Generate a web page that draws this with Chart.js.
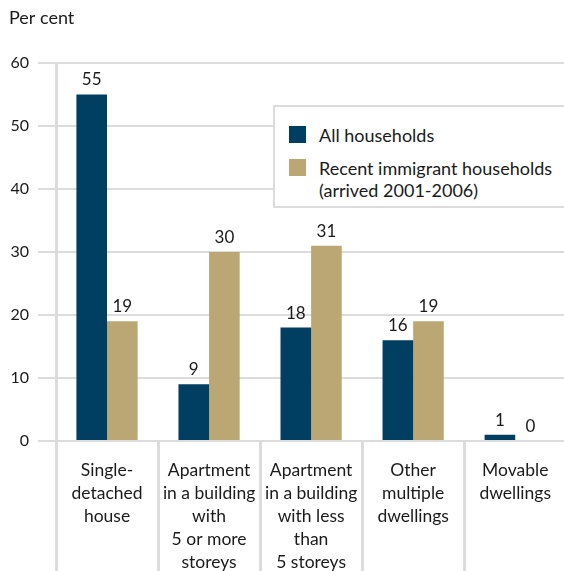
<!DOCTYPE html>
<html>
<head>
<meta charset="utf-8">
<script src="https://cdn.jsdelivr.net/npm/chart.js@4/dist/chart.umd.min.js"></script>
<style>
	html,body{margin:0;padding:0;background:#fff;overflow:hidden;width:564px;height:571px;}
	#wrap{position:relative;width:564px;height:571px;}
	#legend{position:absolute;left:273px;top:105px;width:310px;height:103px;box-sizing:border-box;border:2px solid #dcdcdc;background:#fff;font-family:Lato,sans-serif;font-size:18px;color:#1a1a1a;padding-top:17px;}
	#legend .item{position:relative;padding-left:44px;line-height:22px;margin-bottom:11px;}
	#legend .sw{position:absolute;left:14px;top:2px;width:17px;height:17px;}
</style>
</head>
<body>
<div id="wrap">
	<canvas id="c" width="569" height="571"></canvas>
	<div id="legend"></div>
</div>
<script>
// data
const categories = [
	['Single-','detached','house'],
	['Apartment','in a building','with','5 or more','storeys'],
	['Apartment','in a building','with less','than','5 storeys'],
	['Other','multiple','dwellings'],
	['Movable','dwellings']
];
const allHouseholds = [55, 9, 18, 16, 1];
const recentImmigrants = [19, 30, 31, 19, 0];
const seriesNames = ['All households', ['Recent immigrant households','(arrived 2001-2006)']];
const yTicks = [0, 10, 20, 30, 40, 50, 60];

const BLUE = '#003f62', GOLD = '#baa773', GRID = '#dcdcdc', FONT = 'Lato, sans-serif';

// value labels above bars
const barLabels = {
	id:'barLabels',
	afterDatasetsDraw(chart){
		const ctx = chart.ctx;
		ctx.save();
		ctx.font = '17px ' + FONT; ctx.fillStyle = '#1a1a1a';
		ctx.textAlign = 'center'; ctx.textBaseline = 'bottom';
		chart.data.datasets.forEach((ds, di) => {
			chart.getDatasetMeta(di).data.forEach((bar, i) => {
				ctx.fillText(String(ds.data[i]), bar.x, bar.y - 6);
			});
		});
		ctx.restore();
	}
};

// category separators running down through the label area
const separators = {
	id:'separators',
	afterDraw(chart){
		const x = chart.scales.x, ctx = chart.ctx;
		const n = chart.data.labels.length, step = x.width / n;
		ctx.save();
		ctx.strokeStyle = GRID; ctx.lineWidth = 3;
		for(let i=0;i<n;i++){
			const px = Math.round(x.left + i*step) + 0.5;
			ctx.beginPath();
			ctx.moveTo(px, i===0 ? chart.chartArea.top - 1 : x.top);
			ctx.lineTo(px, chart.height);
			ctx.stroke();
		}
		ctx.restore();
	}
};

const chart = new Chart(document.getElementById('c'), {
	type:'bar',
	data:{
		labels: categories,
		datasets:[
			{ label: seriesNames[0], data: allHouseholds, backgroundColor: BLUE },
			{ label: seriesNames[1], data: recentImmigrants, backgroundColor: GOLD }
		]
	},
	options:{
		responsive:false,
		animation:false,
		layout:{ padding:{ left:9, top:0, right:0, bottom:0 } },
		datasets:{ bar:{ categoryPercentage:0.6, barPercentage:1.0 } },
		plugins:{
			legend:{ display:false },
			tooltip:{ enabled:false },
			title:{ display:true, text:'Per cent', align:'start', color:'#1a1a1a',
				font:{ family:FONT, size:18, weight:'normal', lineHeight:1.2 },
				padding:{ top:7, bottom:34.4 } }
		},
		scales:{
			x:{
				grid:{ display:false, drawTicks:false },
				border:{ display:false },
				ticks:{ color:'#1a1a1a', font:{ family:FONT, size:17.5, lineHeight:'23px' }, padding:18, maxRotation:0, autoSkip:false },
				afterFit(s){ s.height = 130; }
			},
			y:{
				min:0, max:60,
				afterBuildTicks(s){ s.ticks = yTicks.map(v => ({ value:v })); },
				grid:{ color:GRID, lineWidth:2, tickLength:18, drawTicks:true },
				border:{ display:false },
				ticks:{ color:'#1a1a1a', font:{ family:FONT, size:16 }, padding:9 },
				afterFit(s){ s.width = 47; }
			}
		}
	},
	plugins:[separators, barLabels]
});

// html legend built from the chart's datasets
const legend = document.getElementById('legend');
chart.data.datasets.forEach(ds => {
	const item = document.createElement('div');
	item.className = 'item';
	const sw = document.createElement('span');
	sw.className = 'sw'; sw.style.background = ds.backgroundColor;
	item.appendChild(sw);
	const lines = Array.isArray(ds.label) ? ds.label : [ds.label];
	lines.forEach((t, k) => {
		if(k) item.appendChild(document.createElement('br'));
		item.appendChild(document.createTextNode(t));
	});
	legend.appendChild(item);
});
</script>
</body>
</html>
